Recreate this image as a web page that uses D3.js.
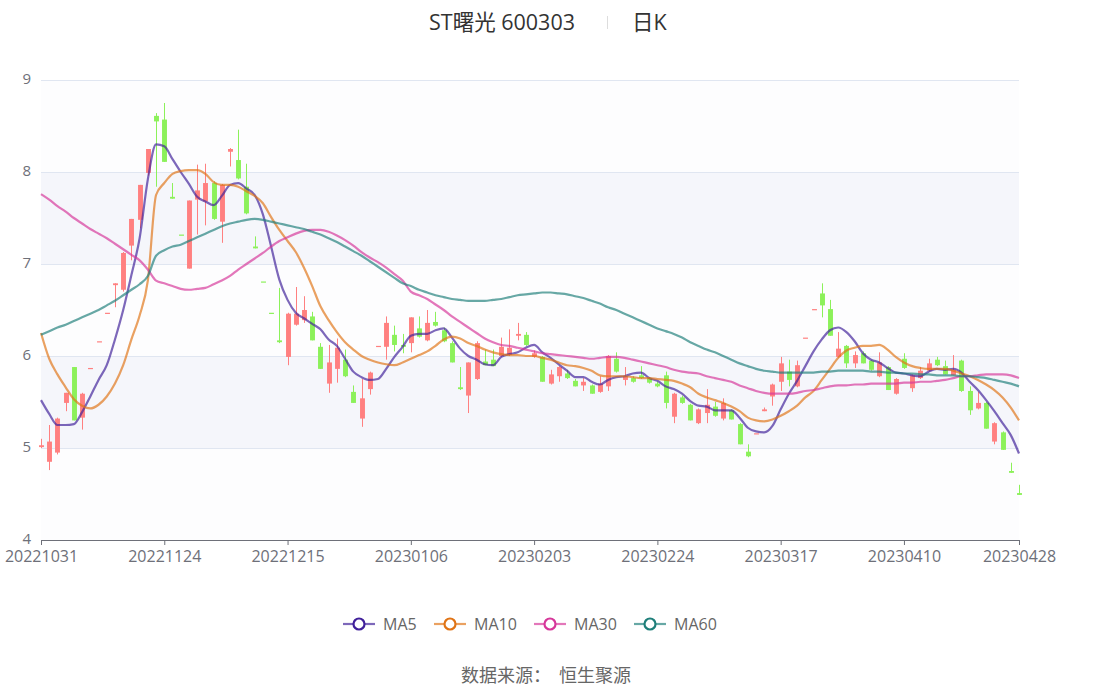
<!DOCTYPE html>
<html>
<head>
<meta charset="utf-8">
<script src="https://cdn.jsdelivr.net/npm/d3@7/dist/d3.min.js"></script>
<style>
  html, body { margin: 0; padding: 0; background: #fff; }
  svg { display: block; font-family: "Microsoft YaHei", "Noto Sans CJK SC", "Noto Sans", sans-serif; }
</style>
</head>
<body>
<div id="chart"></div>
<script>
// trading days shown on the category axis
var dates = [
  "20221031","20221104","20221107","20221108","20221109","20221110","20221111","20221114","20221115","20221116",
  "20221117","20221118","20221121","20221122","20221123","20221124","20221125","20221128","20221129","20221130",
  "20221201","20221202","20221205","20221206","20221207","20221208","20221209","20221212","20221213","20221214",
  "20221215","20221216","20221219","20221220","20221221","20221222","20221223","20221226","20221227","20221228",
  "20221229","20221230","20230103","20230104","20230105","20230106","20230109","20230110","20230111","20230112",
  "20230113","20230116","20230117","20230118","20230119","20230120","20230130","20230131","20230201","20230202",
  "20230203","20230206","20230207","20230208","20230209","20230210","20230213","20230214","20230215","20230216",
  "20230217","20230220","20230221","20230222","20230223","20230224","20230227","20230228","20230301","20230302",
  "20230303","20230306","20230307","20230308","20230309","20230310","20230313","20230314","20230315","20230316",
  "20230317","20230320","20230321","20230322","20230323","20230324","20230327","20230328","20230329","20230330",
  "20230331","20230403","20230404","20230406","20230407","20230410","20230411","20230412","20230413","20230414",
  "20230417","20230418","20230419","20230420","20230421","20230424","20230425","20230426","20230427","20230428"
];

var open = [
  5.01,4.85,4.95,5.49,5.88,5.33,5.87,6.16,6.47,6.77,
  6.72,7.20,7.48,7.99,8.61,8.57,7.73,7.32,6.95,7.70,
  7.68,7.88,7.46,8.22,8.13,7.84,7.19,6.81,6.47,6.17,
  5.99,6.34,6.39,6.43,6.10,5.70,5.86,5.96,5.61,5.32,
  5.64,6.11,6.10,6.23,6.12,6.14,6.30,6.17,6.37,6.28,
  6.14,5.66,5.57,5.75,5.94,5.96,6.00,6.01,6.22,6.23,
  5.99,5.99,5.70,5.78,5.81,5.73,5.68,5.68,5.61,5.67,
  5.97,5.74,5.76,5.79,5.76,5.70,5.79,5.34,5.55,5.47,
  5.27,5.38,5.45,5.32,5.41,5.26,4.96,5.16,5.40,5.56,
  5.72,5.83,5.67,6.20,6.51,6.68,6.51,5.99,6.11,5.92,
  6.03,5.95,5.78,5.88,5.59,5.97,5.65,5.76,5.84,5.96,
  5.89,5.79,5.95,5.62,5.43,5.49,5.07,5.17,4.75,4.51
];
var close = [
  5.03,5.07,5.32,5.60,5.30,5.59,5.87,6.16,6.47,6.79,
  7.12,7.49,7.86,8.25,8.55,8.11,7.71,7.32,7.69,7.80,
  7.88,7.49,7.86,8.25,7.93,7.55,7.17,6.81,6.47,6.15,
  6.46,6.46,6.50,6.17,5.86,5.93,6.09,5.78,5.49,5.54,
  5.82,6.11,6.36,6.12,6.10,6.42,6.21,6.36,6.33,6.16,
  5.93,5.64,5.93,6.14,5.90,5.89,6.10,6.09,6.24,6.12,
  6.03,5.72,5.80,5.88,5.76,5.67,5.72,5.59,5.70,6.00,
  5.83,5.78,5.72,5.76,5.71,5.67,5.49,5.59,5.49,5.30,
  5.42,5.47,5.35,5.49,5.31,5.04,4.91,5.16,5.42,5.69,
  5.92,5.74,5.90,6.20,6.51,6.55,6.22,6.08,5.92,6.01,
  5.92,5.85,5.93,5.63,5.75,5.87,5.79,5.84,5.92,5.90,
  5.80,5.85,5.62,5.41,5.49,5.21,5.27,4.98,4.73,4.49
];
var low = [
  5.00,4.76,4.93,5.40,5.30,5.20,5.87,6.16,6.47,6.53,
  6.70,7.04,7.39,7.96,7.84,8.11,7.71,7.32,6.95,7.32,
  7.42,7.48,7.23,8.06,7.92,7.54,7.17,6.81,6.47,6.14,
  5.90,6.33,6.36,6.17,5.86,5.60,5.71,5.77,5.49,5.23,
  5.58,6.11,5.96,6.05,6.03,6.04,6.20,6.16,6.32,6.15,
  5.93,5.63,5.38,5.74,5.90,5.89,5.99,6.00,6.17,6.11,
  5.98,5.72,5.69,5.72,5.75,5.67,5.62,5.59,5.60,5.62,
  5.82,5.68,5.71,5.75,5.70,5.66,5.43,5.27,5.48,5.30,
  5.26,5.27,5.34,5.30,5.31,5.04,4.90,5.16,5.40,5.46,
  5.62,5.67,5.66,6.20,6.51,6.42,6.22,5.98,5.87,5.87,
  5.92,5.84,5.77,5.63,5.58,5.86,5.61,5.75,5.83,5.89,
  5.80,5.79,5.61,5.36,5.42,5.21,5.04,4.98,4.73,4.49
];
var high = [
  5.10,5.25,5.33,5.60,5.88,5.60,5.87,6.16,6.47,6.79,
  7.13,7.49,7.86,8.25,8.64,8.75,7.88,7.32,7.69,8.08,
  8.09,7.90,7.87,8.26,8.46,8.09,7.30,6.81,6.47,6.74,
  6.47,6.75,6.65,6.48,6.14,6.12,6.19,6.07,5.68,5.75,
  5.83,6.11,6.43,6.33,6.24,6.42,6.43,6.50,6.48,6.31,
  6.16,5.88,5.93,6.16,6.07,6.07,6.20,6.29,6.36,6.26,
  6.06,6.00,5.85,5.89,5.85,5.75,5.76,5.69,5.78,6.01,
  6.04,5.88,5.78,5.89,5.77,5.72,5.83,5.60,5.57,5.48,
  5.43,5.64,5.50,5.54,5.42,5.27,5.04,5.16,5.44,5.70,
  5.99,5.96,5.95,6.20,6.51,6.79,6.61,6.26,6.12,6.05,
  6.05,5.96,6.04,5.89,5.76,6.03,5.80,5.88,5.97,5.99,
  5.95,6.01,5.96,5.67,5.61,5.50,5.28,5.18,4.84,4.60
];

var ma5 = [
  5.52,5.37,5.25,5.25,5.26,5.39,5.56,5.74,5.90,6.18,
  6.50,6.88,7.28,7.92,8.30,8.28,8.14,8.00,7.87,7.73,
  7.68,7.64,7.74,7.86,7.88,7.82,7.75,7.54,7.19,6.83,
  6.61,6.47,6.41,6.35,6.29,6.18,6.11,5.97,5.83,5.77,
  5.74,5.75,5.86,5.99,6.10,6.22,6.24,6.24,6.28,6.30,
  6.20,6.08,6.00,5.96,5.91,5.90,5.99,6.02,6.04,6.09,
  6.12,6.04,5.98,5.91,5.84,5.77,5.77,5.72,5.69,5.74,
  5.77,5.78,5.81,5.82,5.76,5.73,5.67,5.64,5.59,5.51,
  5.46,5.45,5.41,5.41,5.41,5.33,5.22,5.18,5.17,5.24,
  5.42,5.59,5.73,5.89,6.05,6.18,6.28,6.31,6.26,6.16,
  6.03,5.96,5.93,5.87,5.82,5.81,5.79,5.78,5.83,5.86,
  5.85,5.86,5.82,5.72,5.63,5.52,5.40,5.27,5.14,4.94
];
var ma10 = [
  6.25,5.97,5.80,5.66,5.53,5.46,5.43,5.47,5.56,5.70,
  5.90,6.18,6.44,6.82,7.75,7.88,7.98,8.01,8.02,8.02,
  7.98,7.89,7.86,7.86,7.84,7.79,7.74,7.66,7.51,7.37,
  7.25,7.13,6.96,6.76,6.54,6.39,6.26,6.15,6.07,6.00,
  5.96,5.93,5.91,5.90,5.93,5.97,6.01,6.05,6.11,6.18,
  6.21,6.19,6.14,6.11,6.07,6.04,6.02,6.01,6.01,6.00,
  6.00,5.98,5.96,5.93,5.90,5.89,5.87,5.84,5.79,5.78,
  5.78,5.78,5.77,5.76,5.76,5.75,5.74,5.73,5.70,5.66,
  5.59,5.55,5.52,5.49,5.45,5.40,5.33,5.30,5.29,5.31,
  5.35,5.40,5.46,5.55,5.62,5.74,5.86,5.98,6.06,6.09,
  6.11,6.11,6.12,6.07,5.99,5.93,5.89,5.87,5.86,5.86,
  5.86,5.84,5.81,5.78,5.74,5.69,5.63,5.55,5.44,5.30
];
var ma30 = [
  7.76,7.70,7.63,7.57,7.50,7.44,7.38,7.33,7.28,7.22,
  7.16,7.10,7.04,6.94,6.82,6.79,6.76,6.73,6.72,6.73,
  6.74,6.78,6.82,6.87,6.94,7.00,7.06,7.12,7.19,7.25,
  7.29,7.33,7.36,7.37,7.37,7.35,7.31,7.26,7.20,7.13,
  7.07,7.02,6.96,6.89,6.82,6.70,6.66,6.62,6.56,6.50,
  6.43,6.37,6.31,6.25,6.19,6.15,6.12,6.11,6.09,6.07,
  6.05,6.03,6.02,6.01,6.00,5.99,5.98,5.97,5.98,5.99,
  5.99,5.98,5.96,5.94,5.92,5.90,5.88,5.85,5.83,5.82,
  5.81,5.78,5.76,5.74,5.72,5.68,5.65,5.62,5.60,5.59,
  5.59,5.59,5.60,5.62,5.63,5.65,5.67,5.68,5.68,5.69,
  5.69,5.70,5.70,5.70,5.70,5.71,5.71,5.72,5.72,5.73,
  5.74,5.76,5.78,5.78,5.79,5.80,5.80,5.80,5.79,5.76
];
var ma60 = [
  6.23,6.27,6.31,6.34,6.38,6.42,6.46,6.50,6.55,6.60,
  6.66,6.72,6.78,6.87,7.09,7.15,7.19,7.21,7.25,7.29,
  7.33,7.37,7.41,7.44,7.46,7.48,7.49,7.48,7.46,7.44,
  7.42,7.40,7.38,7.35,7.32,7.28,7.24,7.19,7.14,7.09,
  7.03,6.97,6.91,6.85,6.79,6.76,6.72,6.69,6.66,6.64,
  6.62,6.61,6.60,6.60,6.60,6.61,6.62,6.64,6.66,6.67,
  6.68,6.69,6.69,6.68,6.67,6.65,6.63,6.60,6.57,6.53,
  6.50,6.46,6.42,6.38,6.34,6.30,6.27,6.24,6.20,6.15,
  6.11,6.07,6.04,6.00,5.96,5.92,5.89,5.86,5.84,5.83,
  5.82,5.82,5.82,5.82,5.82,5.83,5.83,5.84,5.84,5.84,
  5.84,5.83,5.83,5.82,5.82,5.81,5.81,5.80,5.80,5.79,
  5.79,5.79,5.78,5.78,5.77,5.76,5.74,5.72,5.70,5.67
];

var yTicks = [4, 5, 6, 7, 8, 9];
var xLabelIndex = [0, 15, 30, 45, 60, 75, 90, 105, 119];

var maSeries = [
  { name: "MA5",  values: ma5,  color: "#40209a" },
  { name: "MA10", values: ma10, color: "#e07416" },
  { name: "MA30", values: ma30, color: "#d6379a" },
  { name: "MA60", values: ma60, color: "#1f7f7a" }
];

var W = 1094, H = 689;
var margin = { top: 80, right: 75, bottom: 149, left: 41 },
    width = W - margin.left - margin.right,    // 978
    height = H - margin.top - margin.bottom;   // 460

var upColor = "#ff8080",
    downColor = "#8cf15a",
    axisColor = "#6e7079",
    gridColor = "#e0e6f1",
    latinFont = "'Open Sans', 'Noto Sans CJK SC', sans-serif";

var svg = d3.select("#chart").append("svg")
    .attr("width", W)
    .attr("height", H);

// title
svg.append("text")
    .attr("x", 429).attr("y", 30)
    .attr("font-size", 21.5)
    .attr("font-family", latinFont)
    .attr("fill", "#333")
    .text("ST曙光 600303");
svg.append("line")
    .attr("x1", 607.5).attr("x2", 607.5).attr("y1", 16).attr("y2", 29)
    .attr("stroke", "#ddd").attr("stroke-width", 1);
svg.append("text")
    .attr("x", 632).attr("y", 30)
    .attr("font-size", 21.5)
    .attr("font-family", latinFont)
    .attr("fill", "#333")
    .text("日K");

var g = svg.append("g")
    .attr("transform", "translate(" + margin.left + "," + margin.top + ")");

var x = d3.scalePoint()
    .domain(dates)
    .range([0, width]);

var y = d3.scaleLinear()
    .domain([4, 9])
    .range([height, 0]);

// alternating split areas
g.append("g").selectAll("rect")
    .data(d3.pairs(yTicks))
    .join("rect")
    .attr("x", 0)
    .attr("width", width)
    .attr("y", function(d) { return y(d[1]); })
    .attr("height", function(d) { return y(d[0]) - y(d[1]); })
    .attr("fill", function(d, i) { return i % 2 ? "#f5f6fb" : "#fdfdfe"; });

// y grid + labels
var yAxis = g.append("g")
    .call(d3.axisLeft(y).tickValues(yTicks).tickSize(-width).tickPadding(10).tickFormat(d3.format("d")));
yAxis.select(".domain").remove();
yAxis.selectAll(".tick line").attr("stroke", gridColor);
yAxis.selectAll(".tick text")
    .attr("fill", axisColor)
    .attr("font-size", 15)
    .attr("dy", "0.2em")
    .attr("font-family", latinFont);

// x axis
var xAxis = g.append("g")
    .attr("transform", "translate(0," + height + ")")
    .call(d3.axisBottom(x)
      .tickValues(xLabelIndex.map(function(i) { return dates[i]; }))
      .tickSizeOuter(0)
      .tickSize(5)
      .tickPadding(6));
xAxis.select(".domain").attr("stroke", axisColor);
xAxis.selectAll(".tick line").attr("stroke", axisColor);
xAxis.selectAll(".tick text")
    .attr("fill", axisColor)
    .attr("font-size", 16)
    .attr("font-family", latinFont);

// candles
var bw = x.step() * 0.6;
var candles = dates.map(function(d, i) {
  var dir = close[i] > open[i] ? 1 : close[i] < open[i] ? -1 : (i > 0 && close[i] < close[i - 1] ? -1 : 1);
  return { date: d, o: open[i], c: close[i], l: low[i], h: high[i], up: dir > 0 };
});

var cg = g.append("g").selectAll("g")
    .data(candles)
    .join("g");

cg.append("line")
    .attr("x1", function(d) { return Math.round(x(d.date)) + 0.5; })
    .attr("x2", function(d) { return Math.round(x(d.date)) + 0.5; })
    .attr("y1", function(d) { return y(d.h); })
    .attr("y2", function(d) { return y(d.l); })
    .attr("stroke", function(d) { return d.up ? upColor : downColor; })
    .attr("stroke-width", 1);

cg.append("rect")
    .attr("x", function(d) { return Math.round(x(d.date)) + 0.5 - bw / 2; })
    .attr("width", bw)
    .attr("y", function(d) { return y(Math.max(d.o, d.c)); })
    .attr("height", function(d) { return Math.max(1.2, Math.abs(y(d.o) - y(d.c))); })
    .attr("fill", function(d) { return d.up ? upColor : downColor; });

// moving averages
maSeries.forEach(function(s) {
  var line = d3.line()
      .x(function(d, i) { return x(dates[i]); })
      .y(function(d) { return y(d); })
      .curve(d3.curveMonotoneX);
  g.append("path")
      .datum(s.values)
      .attr("fill", "none")
      .attr("stroke", s.color)
      .attr("stroke-opacity", 0.68)
      .attr("stroke-width", 2.2)
      .attr("d", line);
});

// legend
var legendX = [343, 434, 534, 634];
var legend = svg.append("g").selectAll("g")
    .data(maSeries)
    .join("g")
    .attr("transform", function(d, i) { return "translate(" + legendX[i] + ",624)"; });
legend.append("line")
    .attr("x1", 0).attr("x2", 32)
    .attr("stroke", function(d) { return d.color; })
    .attr("stroke-opacity", 0.68)
    .attr("stroke-width", 2.2);
legend.append("circle")
    .attr("cx", 16).attr("r", 5.5)
    .attr("fill", "#fff")
    .attr("stroke", function(d) { return d.color; })
    .attr("stroke-width", 2.2);
legend.append("text")
    .attr("x", 40).attr("y", 6)
    .attr("font-size", 16)
    .attr("fill", "#666")
    .attr("font-family", latinFont)
    .text(function(d) { return d.name; });

// footer
svg.append("text")
    .attr("x", 461).attr("y", 682)
    .attr("font-size", 18)
    .attr("fill", "#666")
    .attr("xml:space", "preserve")
    .style("white-space", "pre")
    .text("数据来源：  恒生聚源");
</script>
</body>
</html>
